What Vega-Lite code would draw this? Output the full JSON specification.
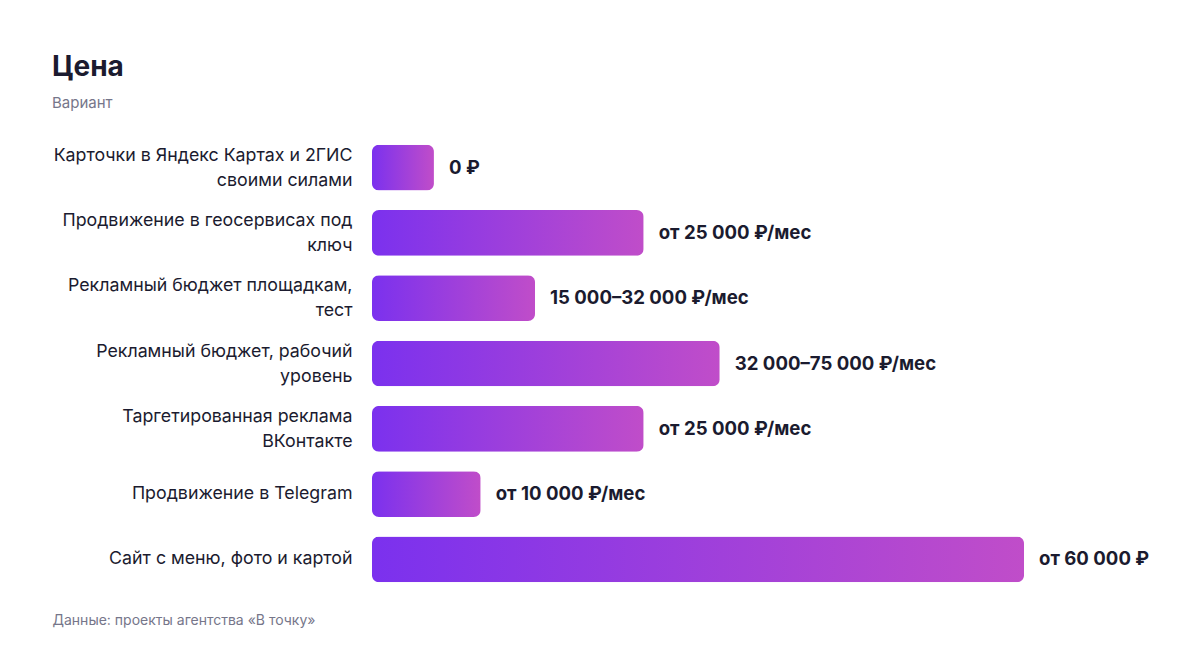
{
  "$schema": "https://vega.github.io/schema/vega-lite/v6.json",
  "autosize": "none",
  "width": 652,
  "height": 457,
  "padding": {"left": 372, "top": 135, "right": 176, "bottom": 56},
  "background": "white",
  "title": {
    "text": "Цена",
    "subtitle": "Вариант",
    "anchor": "start",
    "frame": "group",
    "dx": -320,
    "offset": 24,
    "font": "Inter",
    "fontSize": 28,
    "fontWeight": "bold",
    "color": "#1b1b2f",
    "subtitleFont": "Inter",
    "subtitleFontSize": 15,
    "subtitleColor": "#76768a",
    "subtitlePadding": 14
  },
  "data": {
    "values": [
      {"label": "Карточки в Яндекс Картах и 2ГИС\nсвоими силами", "value": 5700, "text": "0 ₽"},
      {"label": "Продвижение в геосервисах под\nключ", "value": 25000, "text": "от 25 000 ₽/мес"},
      {"label": "Рекламный бюджет площадкам,\nтест", "value": 15000, "text": "15 000–32 000 ₽/мес"},
      {"label": "Рекламный бюджет, рабочий\nуровень", "value": 32000, "text": "32 000–75 000 ₽/мес"},
      {"label": "Таргетированная реклама\nВКонтакте", "value": 25000, "text": "от 25 000 ₽/мес"},
      {"label": "Продвижение в Telegram", "value": 10000, "text": "от 10 000 ₽/мес"},
      {"label": "Сайт с меню, фото и картой", "value": 60000, "text": "от 60 000 ₽"}
    ]
  },
  "encoding": {
    "y": {
      "field": "label",
      "type": "nominal",
      "sort": null,
      "scale": {"paddingInner": 0.3, "paddingOuter": 0.15},
      "axis": {
        "title": null,
        "domain": false,
        "ticks": false,
        "labelPadding": 20,
        "labelFont": "Inter",
        "labelFontSize": 17.8,
        "labelColor": "#1b1b2f",
        "labelLineHeight": 25,
        "labelLimit": 400,
        "labelOffset": {"condition": {"test": "indexof(datum.label, '\\n') >= 0", "value": -12}, "value": 0},
        "labelExpr": "split(datum.label, '\\n')"
      }
    },
    "x": {
      "field": "value",
      "type": "quantitative",
      "scale": {"domain": [0, 60000], "nice": false},
      "axis": {
        "title": "Данные: проекты агентства «В точку»",
        "domain": false,
        "ticks": false,
        "labels": false,
        "grid": false,
        "titleFont": "Inter",
        "titleFontSize": 14,
        "titleFontWeight": "normal",
        "titleColor": "#76768a",
        "titleAlign": "left",
        "titleAnchor": "start",
        "titleBaseline": "alphabetic",
        "titleX": -320,
        "titleY": 32
      }
    }
  },
  "layer": [
    {
      "mark": {
        "type": "bar",
        "cornerRadius": 7,
        "fill": {
          "gradient": "linear",
          "x1": 0, "y1": 0, "x2": 1, "y2": 0,
          "stops": [
            {"offset": 0, "color": "#7b31ee"},
            {"offset": 1, "color": "#c04dc9"}
          ]
        }
      }
    },
    {
      "mark": {
        "type": "text",
        "align": "left",
        "baseline": "middle",
        "dx": 15,
        "font": "Inter",
        "fontSize": 18.6,
        "fontWeight": "bold",
        "color": "#1b1b2f"
      },
      "encoding": {"text": {"field": "text"}}
    }
  ],
  "config": {"view": {"stroke": null}}
}
